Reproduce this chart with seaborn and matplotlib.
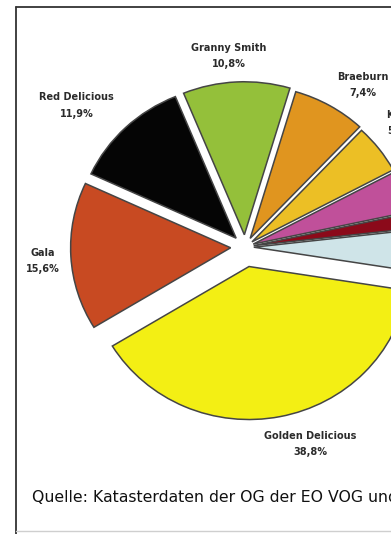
import matplotlib
matplotlib.use("Agg")
import matplotlib.pyplot as plt
from matplotlib.lines import Line2D
import seaborn as sns

# ---- data ----
varieties = ["Golden Delicious", "Gala", "Red Delicious", "Granny Smith", "Braeburn",
             "Kanzi", "Cripps Pink", "Jonagold", "Sonstige"]
shares = [38.8, 15.6, 11.9, 10.8, 7.4, 5.2, 4.4, 1.6, 4.3]
slice_colors = ["#f3ef14", "#c84a22", "#050505", "#94c03a", "#e0951f",
                "#ecbf25", "#c0509a", "#8b0a1a", "#cfe4e8"]
# labels of the last three slices lie outside the visible crop of the reference
label_shown = [True, True, True, True, True, True, False, False, False]
source_text = "Quelle: Katasterdaten der OG der EO VOG und VI.P"

# ---- style ----
sns.set_theme(style="white")
plt.rcParams["font.family"] = ["DejaVu Sans"]

W, H = 391, 534
fig = plt.figure(figsize=(W / 100, H / 100), dpi=100)
fig.patch.set_facecolor("white")
ax = fig.add_axes([0, 0, 1, 1])

explode = [0.13, 0.09, 0.08, 0.08, 0.065, 0.055, 0.055, 0.055, 0.055]
labels = [f"{n}\n{str(v).replace('.', ',')}%" if s else ""
          for n, v, s in zip(varieties, shares, label_shown)]

wedges, texts = ax.pie(
    shares, labels=labels, colors=slice_colors, startangle=-9, counterclock=False,
    explode=explode, labeldistance=1.3,
    wedgeprops=dict(edgecolor="#454545", linewidth=1.1),
    textprops=dict(fontsize=7, fontweight="bold", color="#2b2b2b",
                   ha="center", va="center", linespacing=1.77),
)

# pixel geometry of the pie (centre & radii, slight horizontal stretch)
cx, cy, rx, ry = 245, 247, 160, 153
ax.set_aspect("auto")
ax.set_xlim(-cx / rx, (W - cx) / rx)
ax.set_ylim(-(H - cy) / ry, cy / ry)
ax.axis("off")

# label nudges in pixels (dx right, dy down)
nudges = [(21, -18), (20, 2), (-16, 11), (-5, 20), (9, 19), (-16, 2), (0, 0), (0, 0), (0, 0)]
for t, (dx, dy) in zip(texts, nudges):
    x, y = t.get_position()
    t.set_position((x + dx / rx, y - dy / ry))

# source line
fig.text(32 / W, 1 - 498 / H, source_text, fontsize=11.3, ha="left", va="center",
         color="#111111")

# frame lines
fig.add_artist(Line2D([15.5 / W, 15.5 / W], [0, 1 - 6.5 / H], transform=fig.transFigure,
                      color="#333333", lw=1.3))
fig.add_artist(Line2D([15.5 / W, 1], [1 - 6.5 / H, 1 - 6.5 / H], transform=fig.transFigure,
                      color="#333333", lw=1.3))
fig.add_artist(Line2D([15.5 / W, 1], [1 - 531 / H, 1 - 531 / H], transform=fig.transFigure,
                      color="#cfcfcf", lw=1.0))

fig.savefig("out.png", dpi=100, facecolor="white")
